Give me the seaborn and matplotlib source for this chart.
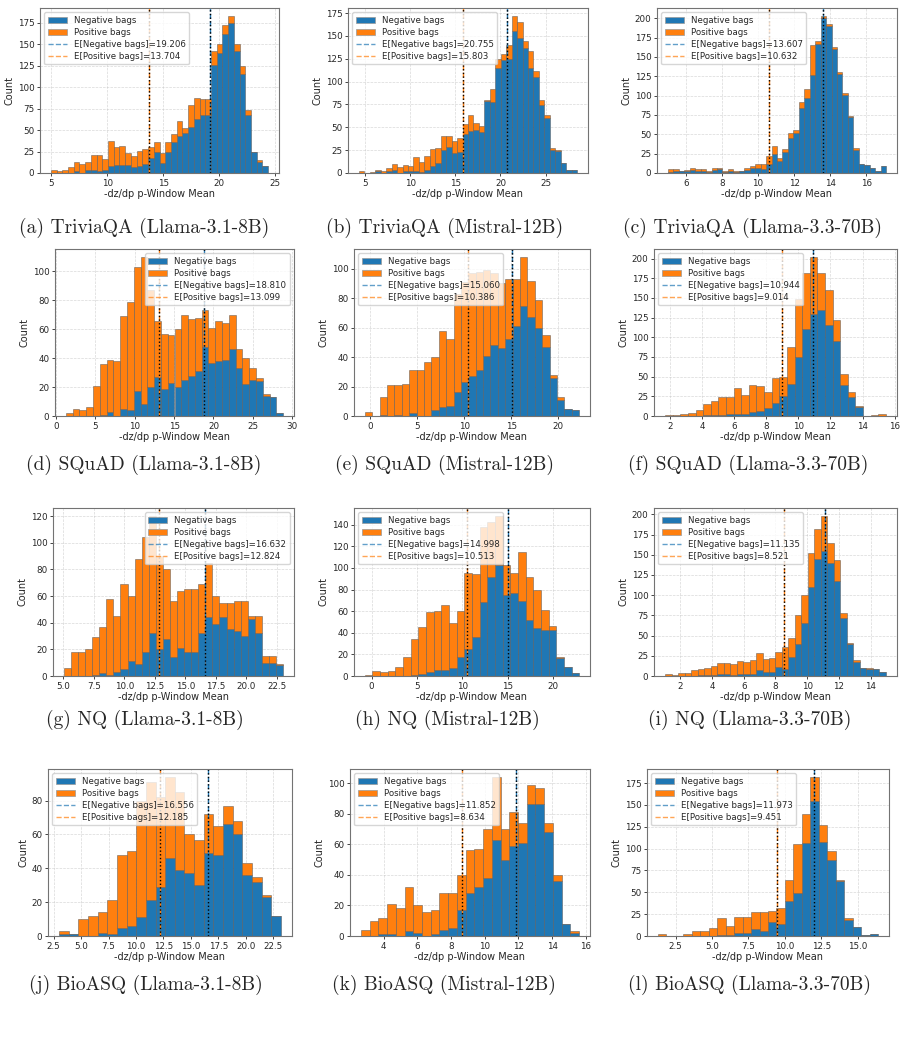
import numpy as np
import pandas as pd
import matplotlib
matplotlib.use('Agg')
import matplotlib.pyplot as plt
from matplotlib.patches import Patch
from matplotlib.lines import Line2D
from matplotlib.ticker import MultipleLocator
import seaborn as sns

sns.set_style("ticks")
plt.rcParams['font.family'] = ['DejaVu Sans']

NEG_C = '#1f77b4'
POS_C = '#ff7f0e'

# == bar heights: total stack height and negative part
a_tot = [3,2,3,7,13,10,13,21,21,16,37,30,31,23,20,26,28,30,36,23,36,45,61,52,79,87,86,86,142,150,172,183,150,125,73,25,15,8]
a_neg = [0,0,0,0,2,0,3,3,2,3,8,9,9,9,7,8,10,18,24,12,25,36,43,47,53,63,67,67,126,140,162,175,142,115,67,24,13,8]
b_tot = [2,0,1,3,2,5,10,7,9,8,18,12,19,26,27,40,41,35,38,54,63,55,51,80,92,125,130,140,172,165,145,133,112,80,63,27,25,11,3,3]
b_neg = [0,0,0,2,0,2,3,0,2,2,2,1,3,8,11,25,28,22,23,43,46,47,45,79,78,115,124,125,155,148,137,115,105,74,60,25,24,11,3,3]
c_tot = [5,5,3,4,7,5,5,2,6,7,2,5,2,3,6,9,11,12,22,35,20,31,52,55,92,108,165,170,203,192,163,131,103,74,32,12,10,7,3,9]
c_neg = [1,2,2,3,4,3,3,1,4,5,1,3,1,2,4,6,7,5,12,25,15,27,45,52,84,97,126,167,200,190,160,128,101,72,30,12,10,7,3,9]
d_tot = [2,5,4,6,21,36,39,38,69,79,103,110,87,66,57,56,60,70,67,68,73,61,66,64,70,46,40,33,26,15,13,2]
d_neg = [0,0,0,0,0,1,3,0,5,4,17,8,20,27,19,23,20,25,28,31,48,37,38,39,46,33,22,25,24,14,13,2]
e_tot = [3,0,13,21,21,22,31,31,37,40,58,52,83,91,97,98,99,97,90,93,93,108,92,79,55,28,13,5,4]
e_neg = [0,0,1,0,1,0,2,0,0,4,6,7,16,23,27,31,41,48,46,52,61,75,67,60,47,26,11,5,4]
f_tot = [1,1,3,4,8,15,19,24,24,35,27,40,38,31,48,49,88,148,181,202,182,160,122,53,31,13,0,1,2]
f_neg = [0,0,0,0,0,1,1,1,2,2,3,5,6,10,16,26,41,75,110,129,135,116,95,40,24,12,0,0,0]
g_tot = [6,18,18,20,29,37,58,45,69,60,88,104,120,90,80,56,64,65,65,69,85,60,55,55,56,56,45,45,15,15,9]
g_neg = [0,0,0,0,1,2,1,3,5,11,9,18,32,20,28,14,21,18,18,32,44,39,44,35,34,30,43,32,10,10,8]
h_tot = [1,5,4,5,8,18,34,45,59,60,66,49,60,95,94,138,142,148,103,95,115,92,80,61,46,18,8,3]
h_neg = [0,0,0,0,0,0,1,2,4,6,6,7,18,25,36,68,92,103,75,77,69,52,44,43,43,17,8,3]
i_tot = [2,1,4,4,7,9,10,12,16,16,15,18,17,20,29,21,22,30,36,47,75,100,152,182,198,165,143,78,41,20,10,10,9,5]
i_neg = [0,0,0,0,0,1,1,1,2,2,1,2,3,2,7,5,5,11,9,24,40,65,110,145,155,140,118,72,40,17,10,9,9,5]
j_tot = [3,1,10,12,14,21,48,50,80,91,82,94,85,60,57,72,65,77,68,43,35,24,12]
j_neg = [1,1,0,0,2,1,5,6,11,21,29,46,39,37,30,49,48,66,60,36,32,23,12]
k_tot = [4,10,12,21,18,32,20,16,17,28,28,40,56,57,70,104,70,81,74,99,97,74,40,8,3]
k_neg = [0,0,1,1,0,3,2,0,1,4,5,17,28,32,38,63,50,59,61,86,86,68,36,8,2]
l_tot = [2,0,0,2,6,6,9,21,12,22,22,27,27,29,32,64,105,140,182,127,97,64,21,10,1,2]
l_neg = [0,0,0,0,0,0,0,1,1,3,3,8,6,16,14,40,49,106,154,107,87,63,18,10,1,2]

totals = [a_tot, b_tot, c_tot, d_tot, e_tot, f_tot, g_tot, h_tot, i_tot, j_tot, k_tot, l_tot]
negs = [a_neg, b_neg, c_neg, d_neg, e_neg, f_neg, g_neg, h_neg, i_neg, j_neg, k_neg, l_neg]

# histogram range (first / last bin edge)
bin_lo = [4.95, 4.3, 5.0, 1.25, -0.6, 1.7, 5.05, -0.75, 1.03, 3.0, 2.66, 1.30]
bin_hi = [24.4, 28.5, 17.1, 28.85, 22.25, 15.46, 23.0, 22.9, 14.97, 23.2, 15.6, 16.38]

neg_means = [19.206, 20.755, 13.607, 18.810, 15.060, 10.944, 16.632, 14.998, 11.135, 16.556, 11.852, 11.973]
pos_means = [13.704, 15.803, 10.632, 13.099, 10.386, 9.014, 12.824, 10.513, 8.521, 12.185, 8.634, 9.451]

captions = ['(a) TriviaQA (Llama-3.1-8B)', '(b) TriviaQA (Mistral-12B)', '(c) TriviaQA (Llama-3.3-70B)',
            '(d) SQuAD (Llama-3.1-8B)', '(e) SQuAD (Mistral-12B)', '(f) SQuAD (Llama-3.3-70B)',
            '(g) NQ (Llama-3.1-8B)', '(h) NQ (Mistral-12B)', '(i) NQ (Llama-3.3-70B)',
            '(j) BioASQ (Llama-3.1-8B)', '(k) BioASQ (Mistral-12B)', '(l) BioASQ (Llama-3.3-70B)']

# == layout (pixels: left, right, top, bottom), legend corner, tick steps
W, H = 903, 1060
rects = [(40, 279, 8, 173), (348, 588, 8, 173), (657, 897, 8, 173),
         (55, 294, 249, 416), (354, 590, 249, 416), (654, 897, 249, 416),
         (53, 294, 508, 676), (354, 590, 508, 676), (654, 897, 508, 676),
         (48, 292, 769, 936), (350, 590, 769, 936), (647, 889, 769, 936)]
leg_loc = ['upper left', 'upper left', 'upper left',
           'upper right', 'upper left', 'upper left',
           'upper right', 'upper left', 'upper left',
           'upper left', 'upper left', 'upper left']
x_step = [5, 5, 2, 5, 5, 2, 2.5, 5, 2, 2.5, 2, 2.5]
y_step = [25, 25, 25, 20, 20, 25, 20, 20, 25, 20, 20, 25]
cap_xy = [(144, 228), (445, 228), (753, 228),
          (144, 465), (445, 465), (748, 465),
          (145, 720), (447, 720), (750, 720),
          (146, 985), (444, 985), (750, 985)]

fig = plt.figure(figsize=(W / 100, H / 100), dpi=100)
pal = {'Negative bags': NEG_C, 'Positive bags': POS_C}

for k in range(12):
    l, r, t, b = rects[k]
    ax = fig.add_axes([l / W, 1 - b / H, (r - l) / W, (b - t) / H])
    tot = np.array(totals[k])
    neg = np.array(negs[k])
    pos = tot - neg
    edges = np.linspace(bin_lo[k], bin_hi[k], len(tot) + 1)
    centers = (edges[:-1] + edges[1:]) / 2
    n = len(tot)
    df = pd.DataFrame({'x': np.concatenate([centers, centers]),
                       'n': np.concatenate([neg, pos]),
                       'bag': ['Negative bags'] * n + ['Positive bags'] * n})
    sns.histplot(data=df, x='x', weights='n', hue='bag',
                 hue_order=['Positive bags', 'Negative bags'], palette=pal,
                 multiple='stack', bins=edges.tolist(), alpha=1,
                 edgecolor=(0.35, 0.35, 0.35, 0.7), linewidth=0.5,
                 legend=False, ax=ax)
    ax.axvline(neg_means[k], color=NEG_C, ls='--', lw=1.0)
    ax.axvline(neg_means[k], color='k', ls=':', lw=1.0)
    ax.axvline(pos_means[k], color=POS_C, ls='--', lw=1.0)
    ax.axvline(pos_means[k], color='k', ls=':', lw=1.0)

    ax.xaxis.set_major_locator(MultipleLocator(x_step[k]))
    ax.yaxis.set_major_locator(MultipleLocator(y_step[k]))
    ax.grid(True, ls='--', lw=0.5, color='0.75', alpha=0.6)
    ax.set_axisbelow(True)
    ax.tick_params(labelsize=6.3, length=2.5, width=0.6, pad=1.5)
    for s in ax.spines.values():
        s.set_color('0.45')
        s.set_linewidth(0.8)
    ax.set_xlabel('-dz/dp p-Window Mean', fontsize=7, labelpad=1)
    ax.set_ylabel('Count', fontsize=7, labelpad=2)

    handles = [Patch(facecolor=NEG_C, edgecolor='0.6', lw=0.5, label='Negative bags'),
               Patch(facecolor=POS_C, edgecolor='0.6', lw=0.5, label='Positive bags'),
               Line2D([], [], color=NEG_C, ls='--', lw=1.0, alpha=0.7,
                      label='E[Negative bags]={:.3f}'.format(neg_means[k])),
               Line2D([], [], color=POS_C, ls='--', lw=1.0, alpha=0.7,
                      label='E[Positive bags]={:.3f}'.format(pos_means[k]))]
    ax.legend(handles=handles, loc=leg_loc[k], fontsize=6.2, framealpha=0.8,
              borderpad=0.4, labelspacing=0.35, handlelength=2.2)

    cx, cy = cap_xy[k]
    fig.text(cx / W, 1 - cy / H, captions[k], ha='center', va='center',
             fontsize=14, family='cmr10')

fig.savefig('out.png', dpi=100)
